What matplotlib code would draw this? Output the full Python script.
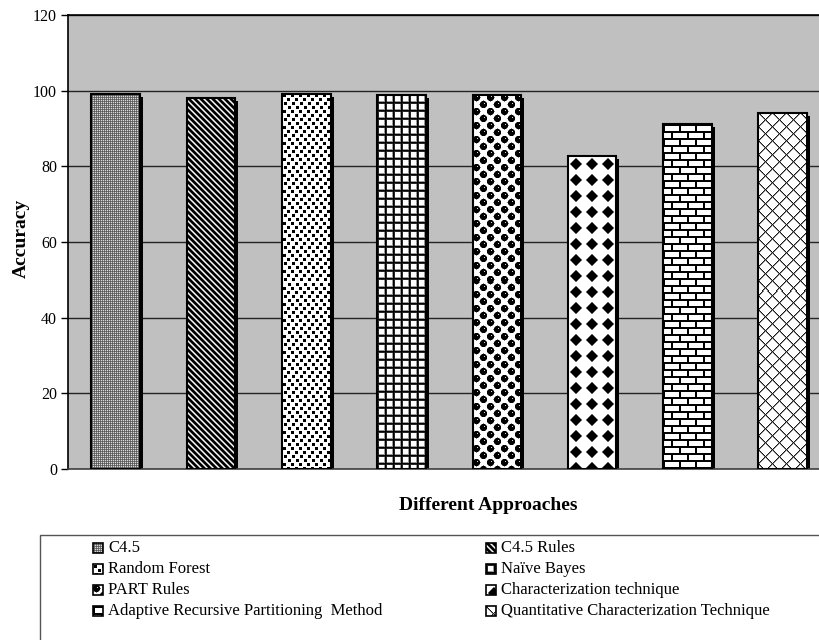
import numpy as np
import matplotlib
matplotlib.use("Agg")
import matplotlib.pyplot as plt
from matplotlib.patches import Rectangle
from matplotlib.transforms import offset_copy

plt.rcParams['font.family'] = ['Liberation Serif', 'DejaVu Serif']

# ---- data -------------------------------------------------------------
approaches = ["C4.5", "C4.5 Rules", "Random Forest", "Naïve Bayes", "PART Rules",
              "Characterization technique",
              "Adaptive Recursive Partitioning  Method",
              "Quantitative Characterization Technique"]
accuracy = [99.1, 98.0, 99.2, 98.9, 98.9, 82.7, 91.1, 94.1]
y_ticks = [0, 20, 40, 60, 80, 100, 120]


# ---- fill textures (grayscale tiles, 0 = black, 1 = white) -------------
def tile_fine():
    return np.array([[0.85, 0.45, 0.85, 0.45],
                     [0.45, 0.35, 0.45, 0.35],
                     [0.85, 0.45, 0.85, 0.45],
                     [0.45, 0.35, 0.45, 0.35]])


def tile_stripes():
    prof = np.array([0.0, 0.0, 0.0, 0.55, 1.0, 0.55])
    i, j = np.mgrid[0:6, 0:6]
    return prof[(j - i) % 6]


def tile_squares():
    t = np.ones((16, 16))
    for r, c in [(1, 1), (1, 9), (5, 5), (5, 13), (9, 2), (9, 10), (13, 6), (13, 14)]:
        rr = np.arange(r, r + 3) % 16
        cc = np.arange(c, c + 3) % 16
        t[np.ix_(rr, cc)] = 0.0
    return t


def tile_grid():
    prof = np.array([0.0, 0.15, 1, 1, 1, 1, 1, 0.6])
    return np.minimum(prof[:, None], prof[None, :])


def tile_balls():
    t = np.ones((14, 14))
    i, j = np.mgrid[0:14, 0:14]
    for cy, cx in [(3.5, 3.5), (10.5, 10.5)]:
        d = np.hypot(i - cy + 0.5, j - cx + 0.5)
        t[d <= 3.5] = 0.0
        t[(d > 3.5) & (d <= 4.1)] = 0.5
        t[int(cy) - 1, int(cx) + 1] = 0.85
    return t


def tile_diamonds():
    i, j = np.mgrid[0:16, 0:16]
    d = np.abs(i - 7.5) + np.abs(j - 7.5)
    t = np.ones((16, 16))
    t[d <= 5.5] = 0.0
    t[(d > 5.5) & (d <= 6.5)] = 0.45
    return t


def tile_bricks():
    t = np.ones((14, 16))
    t[0:2, :] = 0.0
    t[7:9, :] = 0.0
    t[0:7, 0:2] = 0.0
    t[7:14, 8:10] = 0.0
    return t


def tile_crosshatch():
    i, j = np.mgrid[0:14, 0:14]
    t = np.ones((14, 14))
    a = (i + j) % 14
    b = (i - j) % 14
    t[(a == 1) | (b == 1)] = 0.55
    t[(a == 0) | (b == 0)] = 0.1
    return t


tiles = [tile_fine(), tile_stripes(), tile_squares(), tile_grid(),
         tile_balls(), tile_diamonds(), tile_bricks(), tile_crosshatch()]


def tiled(tile, h, w):
    th, tw = tile.shape
    return np.tile(tile, (h // th + 2, w // tw + 2))[:h, :w]


# ---- figure -----------------------------------------------------------
W, H = 820, 640
fig = plt.figure(figsize=(W / 100, H / 100), dpi=100)
ax = fig.add_axes([68 / W, 1 - 469 / H, 762.4 / W, 454 / H])
ax.set_facecolor('#c0c0c0')

x = np.arange(len(accuracy))
bar_w = 0.51
ax.set_xlim(-0.5, len(accuracy) - 0.5)
ax.set_ylim(0, 120)

# drop shadows
shadow_tr = offset_copy(ax.transData, fig=fig, x=3, y=-3, units='dots')
shadows = ax.bar(x, accuracy, width=bar_w, color='black', zorder=2)
for s in shadows:
    s.set_transform(shadow_tr)

# textured bar fills
for xi, val, tile in zip(x, accuracy, tiles):
    bb = ax.transData.transform([(xi - bar_w / 2, 0), (xi + bar_w / 2, val)])
    wpx = int(round(abs(bb[1, 0] - bb[0, 0])))
    hpx = int(round(abs(bb[1, 1] - bb[0, 1])))
    ax.imshow(tiled(tile, hpx, wpx), cmap='gray', vmin=0, vmax=1,
              extent=(xi - bar_w / 2, xi + bar_w / 2, 0, val),
              aspect='auto', interpolation='nearest', zorder=2.5)

# bar outlines
ax.bar(x, accuracy, width=bar_w, facecolor='none', edgecolor='black',
       linewidth=1.5, zorder=3)

ax.set_xlim(-0.5, len(accuracy) - 0.5)
ax.set_ylim(0, 120)
ax.set_yticks(y_ticks)
ax.set_xticks([])
ax.yaxis.grid(True, color='#222222', linewidth=1)
ax.set_axisbelow(True)
ax.tick_params(axis='y', direction='out', length=5, width=1, labelsize=11.5,
               pad=3, colors='black')
for name, sp in ax.spines.items():
    sp.set_color('black' if name != 'bottom' else '#404040')
    sp.set_linewidth(1.2)

# ---- overlay in pixel coordinates for labels and legend ---------------
ov = fig.add_axes([0, 0, 1, 1])
ov.set_xlim(0, W)
ov.set_ylim(H, 0)
ov.axis('off')
ov.patch.set_alpha(0)

ov.text(21, 238, 'Accuracy', rotation=90, fontsize=14, fontweight='bold',
        ha='center', va='center')
ov.text(488, 505, 'Different Approaches', fontsize=14, fontweight='bold',
        ha='center', va='center')

ov.add_patch(Rectangle((40, 535), 800, 120, fill=False, edgecolor='#555555',
                       linewidth=1))

col_icon = [93, 486]
col_text = [108, 501]
row_y = [548, 569, 590, 611]
for k, (label, tile) in enumerate(zip(approaches, tiles)):
    r, c = divmod(k, 2)
    ix, iy = col_icon[c], row_y[r]
    ov.imshow(tiled(tile, 10, 10), cmap='gray', vmin=0, vmax=1,
              extent=(ix, ix + 10, iy + 5, iy - 5), aspect='auto',
              interpolation='nearest', zorder=2)
    ov.add_patch(Rectangle((ix, iy - 5), 10, 10, fill=False,
                           edgecolor='black', linewidth=1.2, zorder=3))
    ov.text(col_text[c], iy, label, fontsize=12, ha='left', va='center')

ov.set_xlim(0, W)
ov.set_ylim(H, 0)

fig.savefig('out.png', dpi=100)
